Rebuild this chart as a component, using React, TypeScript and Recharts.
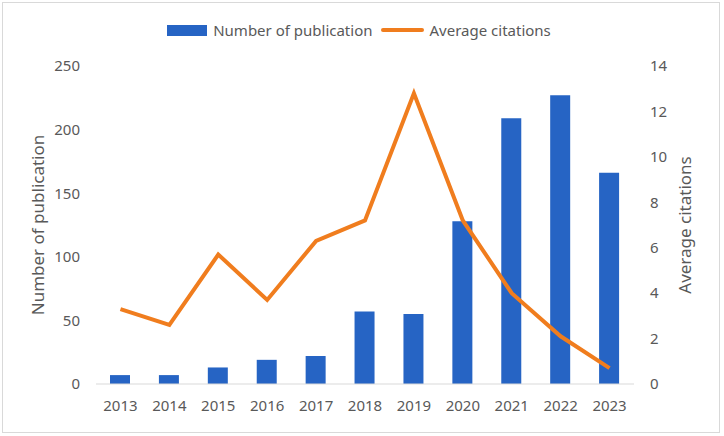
import { ComposedChart, Bar, Line, XAxis, YAxis } from "recharts"

const years = ["2013", "2014", "2015", "2016", "2017", "2018", "2019", "2020", "2021", "2022", "2023"]
const publications = [7, 7, 13, 19, 22, 57, 55, 128, 209, 227, 166]
const avgCitations = [3.3, 2.6, 5.7, 3.7, 6.3, 7.2, 12.8, 7.2, 4.0, 2.1, 0.7]
const leftTicks = [0, 50, 100, 150, 200, 250]
const rightTicks = [0, 2, 4, 6, 8, 10, 12, 14]

const BLUE = "#2664C4"
const ORANGE = "#F07D1E"
const TEXT = "#595959"
const FONT = "'Noto Sans', sans-serif"

const chartData = years.map((year, i) => ({
  year,
  publications: publications[i],
  citations: avgCitations[i],
}))

// legend sits above the plot without taking space from it
function ChartLegend() {
  return (
    <div
      style={{
        position: "absolute",
        left: -3,
        top: 20,
        width: 724,
        display: "flex",
        justifyContent: "center",
        alignItems: "center",
        gap: 6,
        fontFamily: FONT,
        fontSize: 15,
        color: TEXT,
      }}
    >
      <span style={{ display: "inline-block", width: 40, height: 11, background: BLUE }} />
      <span>Number of publication</span>
      <span style={{ display: "inline-block", width: 43, height: 4, background: ORANGE, borderRadius: 2, marginLeft: 2 }} />
      <span>Average citations</span>
    </div>
  )
}

export default function App() {
  return (
    <div
      style={{
        position: "absolute",
        left: 0,
        top: 0,
        width: 724,
        height: 436,
        background: "#fff",
      }}
    >
      <div
        style={{
          position: "absolute",
          left: 2,
          top: 2,
          width: 716,
          height: 429,
          border: "1px solid #D9D9D9",
        }}
      />
      <ChartLegend />
      <div style={{ position: "absolute", left: 0, top: 0 }}>
        <ComposedChart
          width={724}
          height={436}
          data={chartData}
          margin={{ top: 66, right: 0, bottom: 22, left: 0 }}
          barCategoryGap={0}
        >
          <XAxis
            dataKey="year"
            tickLine={false}
            axisLine={{ stroke: "#D9D9D9" }}
            tick={{ fill: TEXT, fontSize: 15, fontFamily: FONT }}
            tickMargin={10}
            interval={0}
          />
          <YAxis
            yAxisId="left"
            width={96}
            domain={[0, 250]}
            ticks={leftTicks}
            axisLine={false}
            tickLine={false}
            tick={{ fill: TEXT, fontSize: 15, fontFamily: FONT }}
            tickMargin={10}
            label={{
              value: "Number of publication",
              angle: -90,
              position: "insideLeft",
              offset: 38,
              style: { textAnchor: "middle", fill: TEXT, fontSize: 17, fontFamily: FONT },
            }}
          />
          <YAxis
            yAxisId="right"
            orientation="right"
            width={90}
            domain={[0, 14]}
            ticks={rightTicks}
            axisLine={false}
            tickLine={false}
            tick={{ fill: TEXT, fontSize: 15, fontFamily: FONT }}
            tickMargin={10}
            label={{
              value: "Average citations",
              angle: -90,
              position: "insideRight",
              offset: 39,
              style: { textAnchor: "middle", fill: TEXT, fontSize: 17, fontFamily: FONT },
            }}
          />
          <Bar
            yAxisId="left"
            dataKey="publications"
            name="Number of publication"
            fill={BLUE}
            barSize={20}
            isAnimationActive={false}
          />
          <Line
            yAxisId="right"
            dataKey="citations"
            name="Average citations"
            type="linear"
            stroke={ORANGE}
            strokeWidth={4}
            dot={false}
            activeDot={false}
            isAnimationActive={false}
          />
        </ComposedChart>
      </div>
    </div>
  )
}
